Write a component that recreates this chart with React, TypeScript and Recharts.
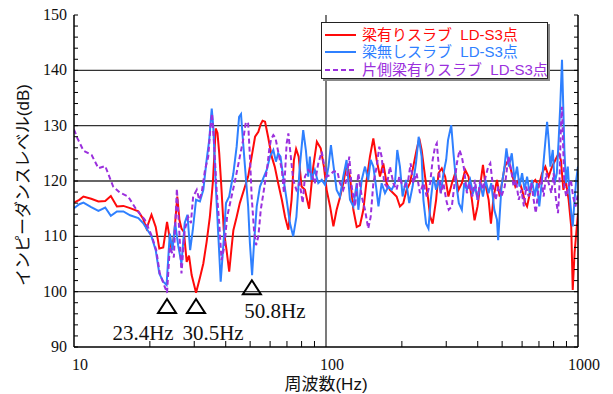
import React from 'react';
import { LineChart, Line, XAxis, YAxis, ReferenceLine, ReferenceDot } from 'recharts';

// 梁有りスラブ LD-S3点
const RED_HZ = [
  10, 10.5, 10.9, 11.7, 12.5, 13.3, 14.0, 14.8, 15.7, 16.7, 18.0, 18.8, 19.4, 20.3, 21.1, 21.8, 22.6, 23.4,
  24.4, 25.0, 25.7, 26.2, 26.7, 27.3, 28.0, 28.6, 29.3, 30.5, 31.6, 32.6, 33.6, 34.6, 35.6, 36.5, 37.1, 37.7,
  38.5, 39.3, 40.3, 41.3, 42.1, 42.9, 44.2, 45.5, 47.7, 49.1, 50.7, 52.3, 53.9, 55.0, 56.0, 57.3, 58.9, 60.9,
  62.6, 64.6, 66.8, 68.8, 70.9, 73.0, 74.6, 76.1, 77.9, 80.0, 82.5, 85.7, 89.0, 92.0, 95.3, 98.1, 100.6, 103.8,
  107.0, 110.2, 113.6, 117.1, 120.7, 124.5, 128.4, 132.4, 136.4, 140.7, 145.0, 149.4, 154.1, 158.9, 163.7, 168.8,
  174.0, 179.4, 185.0, 190.6, 196.5, 202.6, 208.8, 215.3, 221.9, 228.8, 234.5, 239.6, 247.2, 254.6, 258.9, 265,
  273.5, 279.5, 288, 297, 306, 316, 325.6, 335.6, 346, 356.8, 367.9, 379.3, 388.6, 399.4, 411.9, 419.6, 428.5,
  442, 451.4, 462.6, 477, 489, 512, 530, 546, 564, 582, 600, 618, 628, 657, 677, 698, 720, 742, 765, 789, 813,
  838, 855, 875, 893, 918, 940, 953, 969, 984, 1000,
];
const RED_DB = [
  116.1, 116.6, 117.2, 116.8, 116.3, 116.4, 117.3, 115.4, 115.5, 115.1, 114.5, 113.2, 111.4, 113.9, 111.7, 107.8, 108.0, 112.6,
  107.5, 110.5, 117.2, 113.0, 111.4, 110.8, 105.4, 106.5, 103.0, 99.8, 102.5, 105.1, 109.0, 113.5, 120.0, 129.5, 128.7, 125.0,
  118.4, 111.1, 107.5, 103.6, 107.5, 111.1, 113.5, 116.0, 119.0, 120.8, 124.4, 128.0, 128.9, 130.2, 130.9, 130.7, 128.0, 124.4,
  122.6, 119.6, 116.6, 113.5, 111.2, 116.6, 123.8, 125.8, 124.4, 119.0, 118.4, 115.0, 122.6, 127.1, 125.9, 122.6, 118.4, 115.4,
  111.8, 114.8, 117.0, 119.6, 122.9, 120.8, 114.8, 111.7, 112.0, 114.8, 120.2, 124.4, 127.7, 123.8, 120.8, 123.2,
  119.6, 118.4, 117.8, 117.2, 115.4, 116.0, 118.4, 119.6, 122.6, 125.6, 127.7, 125.6, 120.8, 116.6, 113.6, 112.3,
  116.6, 121.4, 122.3, 120.8, 117.2, 119.6, 121.4, 118.4, 119.6, 122.0, 120.8, 116.6, 112.9, 115.4, 120.2, 122.9, 119.6,
  116.6, 112.3, 117.2, 120.2, 117.2, 122.6, 123.8, 121.4, 119.0, 120.2, 118.4, 116.0, 115.4, 119.6, 120.2, 119.0, 121.4, 122.6, 120.8, 122.6, 123.8,
  125.0, 123.8, 118.4, 120.2, 116.6, 111.7, 100.3, 107.0, 110.5, 114.2,
];

// 梁無しスラブ LD-S3点
const BLUE_HZ = [
  10, 10.5, 10.9, 11.7, 12.5, 13.3, 14.0, 14.8, 15.7, 16.7, 18.0, 18.8, 19.4, 20.3, 21.1, 21.8, 22.6, 23.3,
  24.0, 24.6, 25.2, 25.9, 26.7, 27.5, 28.2, 28.9, 29.6, 30.5, 31.6, 32.6, 33.6, 34.4, 35.2, 35.7, 36.6, 37.4,
  38.2, 39.1, 40.1, 41.3, 42.9, 44.2, 45.2, 46.0, 46.7, 47.7, 49.1, 49.9, 50.9, 51.8, 53.1, 54.7, 56.4, 58.2,
  59.9, 61.8, 63.3, 64.6, 66.0, 67.6, 69.8, 71.9, 74.1, 76.3, 78.7, 81.2, 83.2, 85.0, 86.3, 87.5, 90.3, 93.2,
  96.2, 99.2, 102.3, 104.6, 107.2, 110.2, 113.6, 117.1, 120.7, 124.5, 128.4, 132.4, 134.4, 138.6, 142.8, 147.1,
  150.4, 154.1, 158.0, 161.5, 166.3, 171.4, 176.7, 182.1, 187.8, 191.8, 196.5, 201.4, 207.6, 214.0, 220.6, 227.5,
  233.2, 239.6, 243.5, 249.5, 255, 260.5, 266.9, 273.5, 279.5, 285.5, 292.5, 299.8, 305, 314, 320.6, 328.6,
  336.6, 346, 353.6, 362.3, 373.5, 382.8, 391, 399.4, 409.4, 419.6, 430, 442, 452.7, 465.5, 477, 482, 497, 511,
  520, 532, 546, 560, 573, 586, 600, 614, 628, 643, 657, 673, 687, 702, 720, 737, 754, 765, 777, 794, 808, 824,
  838, 850, 864, 874, 883, 896, 911, 925, 940, 953, 969, 984, 1000,
];
const BLUE_DB = [
  115.1, 115.8, 116.1, 115.3, 114.6, 115.2, 113.7, 114.5, 114.5, 113.8, 113.3, 112.4, 111.4, 110.0, 107.5, 103.3, 101.8, 101.2,
  110.5, 107.5, 112.4, 108.4, 105.1, 112.4, 113.9, 107.5, 111.1, 116.6, 116.3, 118.4, 123.8, 127.4, 133.1, 129.8, 118.4, 110.0,
  101.8, 108.1, 116.0, 117.2, 121.4, 126.2, 131.6, 132.1, 128.0, 122.6, 115.4, 108.7, 103.0, 108.7, 115.4, 119.0, 120.5, 122.0,
  124.4, 125.6, 123.5, 125.0, 124.4, 120.8, 116.6, 112.4, 110.0, 113.5, 122.6, 129.2, 125.6, 120.8, 124.4, 120.2, 122.0, 119.6,
  120.2, 119.3, 122.6, 126.5, 122.6, 118.4, 117.2, 120.8, 123.8, 116.6, 115.4, 119.6, 114.8, 120.2, 122.6, 120.2,
  123.8, 122.6, 119.0, 115.4, 119.6, 117.8, 119.0, 118.4, 119.6, 125.6, 122.6, 117.2, 120.2, 116.0, 119.0, 123.2,
  128.0, 124.4, 116.6, 112.3, 111.4, 116.6, 120.8, 118.4, 120.2, 117.8, 121.4, 123.8, 127.4, 130.1, 125.0, 119.6,
  116.0, 114.8, 119.6, 118.4, 120.2, 117.8, 119.0, 116.6, 119.6, 117.2, 120.2, 117.8, 119.6, 114.8, 113.0, 109.3, 119.0, 122.6,
  125.9, 122.6, 125.0, 120.2, 122.6, 119.0, 121.4, 118.4, 120.8, 117.8, 120.2, 117.2, 119.6, 115.4, 120.2, 125.6, 130.7, 127.4, 122.6, 125.6, 119.6, 121.4,
  127.4, 133.4, 141.9, 133.4, 125.6, 119.6, 122.6, 117.8, 114.2, 111.8, 116.6, 120.2, 122.6,
];

// 片側梁有りスラブ LD-S3点
const PURPLE_HZ = [
  10, 10.3, 10.9, 11.75, 12.5, 13.3, 14.3, 15.2, 16.4, 17.7, 19.1, 20.3, 21.2, 21.9, 22.9, 23.4,
  24.0, 24.9, 25.6, 26.2, 26.7, 27.5, 28.4, 29.1, 29.7, 30.7, 31.4, 32.1, 33.1, 34.1, 34.8, 35.3, 35.9, 36.8,
  37.7, 38.5, 39.5, 40.5, 42.2, 43.9, 45.5, 46.9, 48.1, 49.1, 49.9, 50.7, 51.8, 52.8, 53.9, 55.1, 56.7, 58.5,
  59.5, 60.5, 61.8, 63.0, 64.6, 66.8, 68.1, 69.8, 70.9, 72.5, 74.1, 76.3, 78.7, 80.8, 82.5, 85.0, 87.5, 90.3,
  93.2, 96.2, 98.0, 100.6, 103.8, 107.0, 111.0, 113.6, 117.1, 120.7, 123.7, 126.4, 130.4, 134.4, 138.6, 142.8,
  147.1, 150.4, 154.1, 158.9, 162.7, 166.3, 170.2, 174.0, 179.4, 185.0, 190.6, 195.3, 199.5, 205.6, 212.0, 216.7,
  221.9, 228.8, 236, 243.5, 251, 258.9, 265, 270.9, 275.2, 280.3, 285.5, 292.5, 299.8, 307, 315.8, 322.6, 330.6,
  338.8, 346, 353.6, 362.3, 371.3, 380.4, 390, 399.4, 409.4, 419.6, 430, 440.6, 448.7, 459.8, 471.2, 483, 497,
  512, 530, 543, 555, 567, 582, 596, 610, 623, 637, 653, 667, 680, 698, 716, 731, 748, 765, 784, 800, 818, 833,
  843, 855, 864, 874, 883, 898, 918, 937, 956, 978, 1000,
];
const PURPLE_DB = [
  129.3, 127.8, 125.5, 124.7, 122.3, 122.7, 119.0, 117.9, 117.2, 114.8, 113.0, 110.2, 107.5, 103.3, 100.9, 99.8,
  108.1, 106.2, 118.6, 110.5, 103.3, 111.1, 113.5, 112.4, 117.2, 118.4, 116.6, 117.8, 122.0, 124.4, 129.8, 132.2, 127.4, 118.4,
  112.4, 105.7, 108.1, 113.5, 117.2, 120.8, 124.4, 127.4, 130.7, 130.4, 124.4, 117.2, 111.1, 108.4, 110.0, 114.8, 118.4, 122.6,
  125.6, 127.5, 128.3, 127.8, 125.3, 122.0, 117.8, 126.8, 128.6, 124.4, 120.2, 118.4, 119.6, 116.0, 120.8, 122.0, 121.4, 119.6,
  123.2, 125.3, 123.2, 120.8, 121.1, 121.7, 121.7, 119.6, 118.4, 120.2, 124.4, 119.0, 115.4, 121.4, 117.2, 114.8,
  111.4, 113.5, 119.6, 122.6, 126.2, 124.4, 119.6, 119.0, 122.6, 119.6, 118.4, 120.8, 119.6, 119.0, 120.2, 123.2,
  119.6, 121.4, 117.8, 119.6, 117.2, 119.6, 123.8, 126.2, 126.8, 122.6, 117.8, 119.6, 116.6, 114.8, 115.4, 119.0, 123.2,
  125.6, 124.4, 122.0, 117.8, 119.6, 117.2, 120.2, 116.6, 120.2, 118.4, 120.8, 122.6, 123.2, 119.0, 116.6, 119.0, 117.2,
  119.0, 124.4, 122.0, 119.0, 120.2, 116.6, 118.4, 115.4, 119.0, 117.2, 119.6, 116.6, 114.2, 119.0, 120.2, 117.2, 121.4, 119.6, 117.8, 121.4, 116.6, 114.2,
  118.4, 129.8, 133.4, 125.6, 119.0, 117.2, 119.0, 120.2, 117.2, 115.4, 117.8,
];

// 注記 (▽ の位置と周波数)
const MARK_HZ = [23.4, 30.5, 50.8];
const MARK_DB = [97.4, 97.4, 100.8];
const MARK_TEXT = ['23.4Hz', '30.5Hz', '50.8Hz'];

const X_TICKS = [10, 20, 30, 40, 50, 60, 70, 80, 90, 100, 200, 300, 400, 500, 600, 700, 800, 900, 1000];
const X_LABELS = [10, 100, 1000];
const Y_TICKS = [
  90, 92, 94, 96, 98, 100, 102, 104, 106, 108, 110, 112, 114, 116, 118, 120,
  122, 124, 126, 128, 130, 132, 134, 136, 138, 140, 142, 144, 146, 148, 150,
];
const Y_LABELS = [90, 100, 110, 120, 130, 140, 150];
const GRID_Y = [100, 110, 120, 130, 140];
const GRID_X = [100];

const SERIES = [
  { name: '梁有りスラブ LD-S3点', hz: RED_HZ, db: RED_DB, color: '#ff0a0a', dash: undefined },
  { name: '梁無しスラブ LD-S3点', hz: BLUE_HZ, db: BLUE_DB, color: '#2f80ff', dash: undefined },
  { name: '片側梁有りスラブ LD-S3点', hz: PURPLE_HZ, db: PURPLE_DB, color: '#9b30dd', dash: '5 3' },
];

const toPoints = (hz: number[], db: number[]) => hz.map((h, i) => ({ hz: h, db: db[i] }));

const NUM_FONT = '"Liberation Serif", "Times New Roman", serif';
// Latin primary font keeps the text box compact; kana/kanji fall back to Noto CJK
const JP_FONT = '"Liberation Sans", "Noto Sans CJK JP", sans-serif';

const BottomTick = (props: any) => {
  const { x, y, payload } = props;
  const major = X_LABELS.includes(payload.value);
  return (
    <g>
      {!major && <line x1={x} x2={x} y1={y} y2={y - 6} stroke="#000" strokeWidth={1} />}
      {major && (
        <text x={x + 6} y={y + 23} textAnchor="middle" fontFamily={NUM_FONT} fontSize={16} fill="#111">
          {payload.value}
        </text>
      )}
    </g>
  );
};

const TopTick = (props: any) => {
  const { x, y, payload } = props;
  if (X_LABELS.includes(payload.value)) return <g />;
  return <line x1={x} x2={x} y1={y} y2={y + 6} stroke="#000" strokeWidth={1} />;
};

const LeftTick = (props: any) => {
  const { x, y, payload } = props;
  const major = Y_LABELS.includes(payload.value);
  return (
    <g>
      <line x1={x} x2={x + 4} y1={y} y2={y} stroke="#000" strokeWidth={1} />
      {major && (
        <text x={x - 7} y={y + 5} textAnchor="end" fontFamily={NUM_FONT} fontSize={16} fill="#111">
          {payload.value}
        </text>
      )}
    </g>
  );
};

const RightTick = (props: any) => {
  const { x, y } = props;
  return <line x1={x} x2={x - 4} y1={y} y2={y} stroke="#000" strokeWidth={1} />;
};

const LABEL_DX = [-24, 17, 23];
const LABEL_DY = [34, 34, 31];

const Marker = (i: number) => (props: any) => {
  const { cx, cy } = props;
  return (
    <g>
      <polygon
        points={`${cx},${cy - 7} ${cx - 9},${cy + 7} ${cx + 9},${cy + 7}`}
        fill="none"
        stroke="#000"
        strokeWidth={2}
      />
      <text x={cx + LABEL_DX[i]} y={cy + LABEL_DY[i]} textAnchor="middle" fontFamily={NUM_FONT} fontSize={21} fill="#111">
        {MARK_TEXT[i]}
      </text>
    </g>
  );
};

const YTitle = (props: any) => {
  const { viewBox } = props;
  const cx = viewBox.x + 23;
  const cy = 185;
  return (
    <text x={cx} y={cy} transform={`rotate(-90, ${cx}, ${cy})`} textAnchor="middle" dominantBaseline="central"
      fontFamily={JP_FONT} fontSize={17} fill="#111">
      インピーダンスレベル(dB)
    </text>
  );
};

const XTitle = (props: any) => {
  const { viewBox } = props;
  return (
    <text x={viewBox.x + viewBox.width / 2} y={390} textAnchor="middle"
      fontFamily={JP_FONT} fontSize={17} fill="#111">
      周波数(Hz)
    </text>
  );
};

const Legend = () => (
  <div
    style={{
      position: 'absolute', left: 321, top: 22, width: 225, height: 52,
      border: '1.5px solid #222', background: '#fff', boxShadow: '2px 2px 0 #888',
      fontFamily: JP_FONT, fontSize: 15, paddingTop: 3, boxSizing: 'content-box',
    }}
  >
    {SERIES.map((s) => (
      <div key={s.name} style={{ display: 'flex', alignItems: 'center', height: 17.5, color: s.color, whiteSpace: 'pre' }}>
        <svg width={40} height={10} style={{ flex: 'none' }}>
          <line x1={3} x2={34} y1={5} y2={5} stroke={s.color} strokeWidth={2} strokeDasharray={s.dash} />
        </svg>
        <span style={{ lineHeight: '16px', height: 16, display: 'block' }}>{s.name.replace(' ', '  ')}</span>
      </div>
    ))}
  </div>
);

export default function App() {
  return (
    <div style={{ position: 'absolute', left: 0, top: 0, width: 613, height: 394, background: '#fff' }}>
      <LineChart width={613} height={394} margin={{ top: 15, right: 0, bottom: 0, left: 0 }}>
        <XAxis
          xAxisId={0} dataKey="hz" type="number" scale="log" domain={[10, 1000]} allowDataOverflow
          ticks={X_TICKS} interval={0} tickSize={0} tickMargin={0} tick={<BottomTick />} height={47}
          axisLine={{ stroke: '#000', strokeWidth: 1.5 }}
          label={{ content: <XTitle /> }}
        />
        <XAxis
          xAxisId="top" orientation="top" dataKey="hz" type="number" scale="log" domain={[10, 1000]} allowDataOverflow
          ticks={X_TICKS} interval={0} tickSize={0} tickMargin={0} tick={<TopTick />} height={0}
          axisLine={{ stroke: '#000', strokeWidth: 1.5 }}
        />
        <YAxis
          yAxisId={0} type="number" domain={[90, 150]} allowDataOverflow ticks={Y_TICKS} interval={0}
          tickSize={0} tickMargin={0} tick={<LeftTick />} width={74}
          axisLine={{ stroke: '#000', strokeWidth: 1.5 }}
          label={{ content: <YTitle /> }}
        />
        <YAxis
          yAxisId="right" orientation="right" type="number" domain={[90, 150]} allowDataOverflow ticks={Y_TICKS}
          interval={0} tickSize={0} tickMargin={0} tick={<RightTick />} width={35}
          axisLine={{ stroke: '#000', strokeWidth: 1.5 }}
        />
        {GRID_Y.map((v) => (
          <ReferenceLine key={`gy${v}`} y={v} stroke="#333" strokeWidth={1.3} />
        ))}
        {GRID_X.map((v) => (
          <ReferenceLine key={`gx${v}`} x={v} stroke="#333" strokeWidth={1.3} />
        ))}
        {SERIES.map((s) => (
          <Line
            key={s.name}
            data={toPoints(s.hz, s.db)}
            dataKey="db"
            name={s.name}
            type="linear"
            stroke={s.color}
            strokeWidth={2}
            strokeDasharray={s.dash}
            dot={false}
            activeDot={false}
            isAnimationActive={false}
          />
        ))}
        {MARK_HZ.map((h, i) => (
          <ReferenceDot key={`m${i}`} x={h} y={MARK_DB[i]} r={8} ifOverflow="visible" shape={Marker(i)} />
        ))}
      </LineChart>
      <Legend />
    </div>
  );
}
